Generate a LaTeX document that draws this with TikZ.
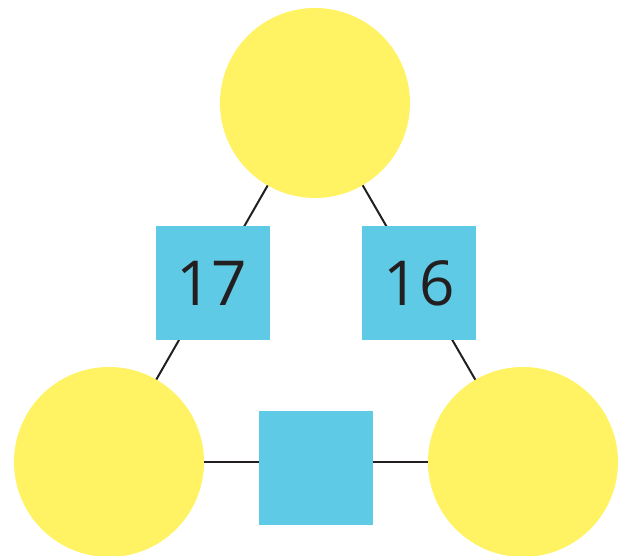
\documentclass[tikz,border=0pt]{standalone}
\usepackage{fontspec}
\setmainfont{Open Sans}
\definecolor{cyel}{HTML}{FFF263}
\definecolor{cblu}{HTML}{5FCAE5}
\definecolor{cink}{HTML}{231F20}
\begin{document}
\begin{tikzpicture}[x=1pt,y=-1pt,
  disc/.style={circle,fill=cyel,minimum size=190pt,inner sep=0pt},
  sq/.style={rectangle,fill=cblu,minimum size=114pt,inner sep=0pt,font=\fontsize{62}{62}\selectfont,text=cink},
  link/.style={draw=cink,line width=2pt}]
\useasboundingbox (0,0) rectangle (625,556);
\clip (0,0) rectangle (625,556);
\coordinate (T) at (315,103);
\coordinate (L) at (109,462);
\coordinate (R) at (523,462);
\draw[link] (T) -- (L);
\draw[link] (T) -- (R);
\draw[link] (L) -- (R);
\node[disc] (top) at (T) {};
\node[disc] (left) at (L) {};
\node[disc] (right) at (R) {};
\node[sq] (s1) at (213,283) {\kern-3pt17};
\node[sq] (s2) at (419,283) {16};
\node[sq] (s3) at (316,468) {};
\end{tikzpicture}
\end{document}
